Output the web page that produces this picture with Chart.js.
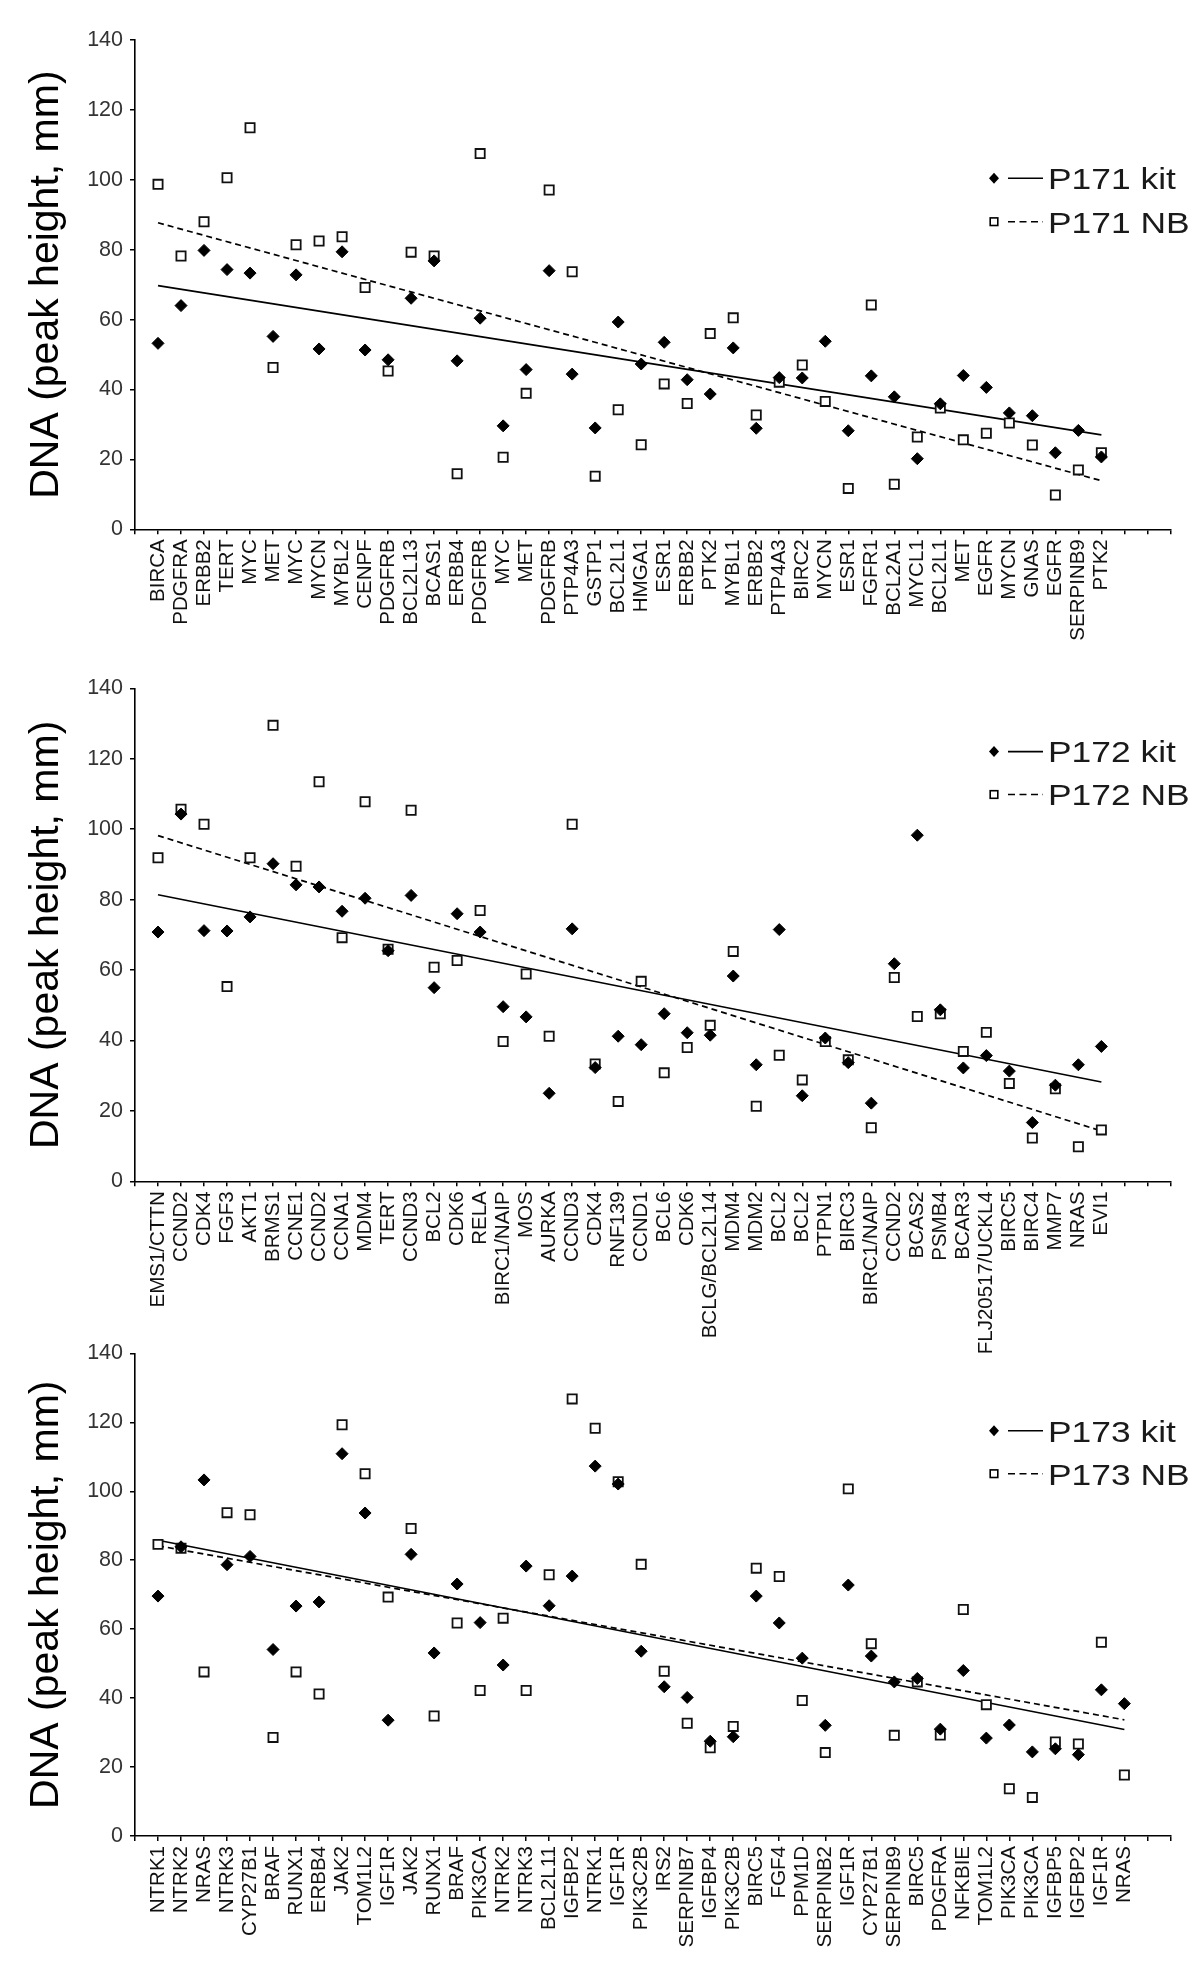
<!DOCTYPE html>
<html>
<head>
<meta charset="utf-8">
<script src="https://cdn.jsdelivr.net/npm/chart.js@4.4.1/dist/chart.umd.min.js"></script>
<style>
  body { margin: 0; background: #fff; }
  .panel { position: absolute; left: 0; width: 1200px; }
</style>
</head>
<body>
<div class="panel" style="top:0"><canvas id="chart-p171" width="1200" height="655"></canvas></div>
<div class="panel" style="top:655px"><canvas id="chart-p172" width="1200" height="730"></canvas></div>
<div class="panel" style="top:1320px"><canvas id="chart-p173" width="1200" height="655"></canvas></div>
<script>
// P171
var genes171 = ['BIRCA', 'PDGFRA', 'ERBB2', 'TERT', 'MYC', 'MET', 'MYC', 'MYCN', 'MYBL2', 'CENPF',
    'PDGFRB', 'BCL2L13', 'BCAS1', 'ERBB4', 'PDGFRB', 'MYC', 'MET', 'PDGFRB', 'PTP4A3', 'GSTP1',
    'BCL2L1', 'HMGA1', 'ESR1', 'ERBB2', 'PTK2', 'MYBL1', 'ERBB2', 'PTP4A3', 'BIRC2', 'MYCN',
    'ESR1', 'FGFR1', 'BCL2A1', 'MYCL1', 'BCL2L1', 'MET', 'EGFR', 'MYCN', 'GNAS', 'EGFR',
    'SERPINB9', 'PTK2'];
var kit171 = [53.2, 64.0, 79.8, 74.3, 73.3, 55.2, 72.8, 51.6, 79.4, 51.3,
    48.5, 66.1, 76.8, 48.2, 60.4, 29.6, 45.7, 74.0, 44.4, 29.0,
    59.3, 47.3, 53.5, 42.8, 38.7, 51.9, 28.9, 43.4, 43.3, 53.8,
    28.2, 43.9, 37.9, 20.2, 35.9, 44.0, 40.6, 33.3, 32.5, 21.9,
    28.3, 20.7];
var nb171 = [98.7, 78.2, 88.0, 100.6, 114.9, 46.3, 81.4, 82.5, 83.7, 69.2,
    45.3, 79.3, 78.2, 15.9, 107.5, 20.6, 38.9, 97.1, 73.7, 15.2,
    34.2, 24.2, 41.6, 36.0, 56.0, 60.5, 32.7, 42.1, 47.0, 36.6,
    11.7, 64.2, 12.9, 26.4, 34.7, 25.6, 27.5, 30.4, 24.1, 9.8,
    17.0, 21.9];
var trendKit171 = [69.7, 27.0];
var trendNb171 = [87.7, 13.9];

// P172
var genes172 = ['EMS1/CTTN', 'CCND2', 'CDK4', 'FGF3', 'AKT1', 'BRMS1', 'CCNE1', 'CCND2', 'CCNA1', 'MDM4',
    'TERT', 'CCND3', 'BCL2', 'CDK6', 'RELA', 'BIRC1/NAIP', 'MOS', 'AURKA', 'CCND3', 'CDK4',
    'RNF139', 'CCND1', 'BCL6', 'CDK6', 'BCLG/BCL2L14', 'MDM4', 'MDM2', 'BCL2', 'BCL2', 'PTPN1',
    'BIRC3', 'BIRC1/NAIP', 'CCND2', 'BCAS2', 'PSMB4', 'BCAR3', 'FLJ20517/UCKL4', 'BIRC5', 'BIRC4', 'MMP7',
    'NRAS', 'EVI1'];
var kit172 = [70.8, 104.3, 71.2, 71.1, 75.1, 90.2, 84.2, 83.6, 76.7, 80.4,
    65.5, 81.2, 55.0, 76.0, 70.8, 49.6, 46.7, 25.0, 71.7, 32.3,
    41.2, 38.8, 47.6, 42.2, 41.5, 58.3, 33.1, 71.5, 24.3, 40.7,
    33.7, 22.2, 61.8, 98.3, 48.7, 32.2, 35.7, 31.3, 16.7, 27.3,
    33.1, 38.3];
var nb172 = [91.9, 105.7, 101.4, 55.3, 91.9, 129.5, 89.5, 113.5, 69.2, 107.8,
    65.9, 105.4, 60.8, 62.7, 76.9, 39.7, 58.9, 41.2, 101.4, 33.3,
    22.7, 56.8, 30.8, 38.0, 44.3, 65.3, 21.3, 35.8, 28.8, 39.7,
    34.5, 15.2, 57.9, 46.8, 47.6, 36.9, 42.3, 27.8, 12.3, 26.3,
    9.8, 14.6];
var trendKit172 = [81.4, 28.2];
var trendNb172 = [98.2, 14.3];

// P173
var genes173 = ['NTRK1', 'NTRK2', 'NRAS', 'NTRK3', 'CYP27B1', 'BRAF', 'RUNX1', 'ERBB4', 'JAK2', 'TOM1L2',
    'IGF1R', 'JAK2', 'RUNX1', 'BRAF', 'PIK3CA', 'NTRK2', 'NTRK3', 'BCL2L11', 'IGFBP2', 'NTRK1',
    'IGF1R', 'PIK3C2B', 'IRS2', 'SERPINB7', 'IGFBP4', 'PIK3C2B', 'BIRC5', 'FGF4', 'PPM1D', 'SERPINB2',
    'IGF1R', 'CYP27B1', 'SERPINB9', 'BIRC5', 'PDGFRA', 'NFKBIE', 'TOM1L2', 'PIK3CA', 'PIK3CA', 'IGFBP5',
    'IGFBP2', 'IGF1R', 'NRAS'];
var kit173 = [69.6, 83.9, 103.3, 78.7, 81.1, 54.1, 66.7, 67.9, 110.9, 93.7,
    33.6, 81.7, 53.1, 73.1, 61.9, 49.6, 78.3, 66.8, 75.4, 107.3,
    102.1, 53.6, 43.3, 40.2, 27.5, 28.8, 69.6, 61.8, 51.6, 32.1,
    72.8, 52.2, 44.7, 45.7, 31.0, 48.0, 28.4, 32.2, 24.4, 25.3,
    23.6, 42.4, 38.4];
var nb173 = [84.6, 83.5, 47.6, 93.8, 93.2, 28.6, 47.6, 41.2, 119.3, 105.1,
    69.3, 89.2, 34.8, 61.8, 42.2, 63.2, 42.2, 75.8, 126.8, 118.3,
    102.8, 78.8, 47.8, 32.7, 25.6, 31.8, 77.7, 75.3, 39.3, 24.2,
    100.7, 55.8, 29.2, 44.7, 29.3, 65.7, 38.1, 13.7, 11.2, 27.3,
    26.7, 56.2, 17.7];
var trendKit173 = [85.8, 30.9];
var trendNb173 = [84.2, 33.7];

var FONT = '"Liberation Sans", Arial, Helvetica, sans-serif';
Chart.defaults.font.family = FONT;

function toPoints(values) {
    return values.map(function (v, i) { return {x: i + 1, y: v}; });
}

function trendPoints(ends, n) {
    return [{x: 1, y: ends[0]}, {x: n, y: ends[1]}];
}

// legend drawn as "marker — text" like the original figure
var legendMarks = {
    id: 'legendMarks',
    afterDraw: function (chart, args, opts) {
        var ctx = chart.ctx;
        ctx.save();
        opts.rows.forEach(function (y, i) {
            var x = 994;
            ctx.strokeStyle = '#000';
            ctx.fillStyle = '#000';
            if (i === 0) {
                ctx.beginPath();
                ctx.moveTo(x, y - 5.5);
                ctx.lineTo(x + 5, y);
                ctx.lineTo(x, y + 5.5);
                ctx.lineTo(x - 5, y);
                ctx.closePath();
                ctx.fill();
                ctx.setLineDash([]);
            } else {
                ctx.lineWidth = 1.6;
                ctx.strokeRect(x - 3.8, y - 3.8, 7.6, 7.6);
                ctx.setLineDash([7, 4.5]);
            }
            ctx.lineWidth = 1.6;
            ctx.beginPath();
            ctx.moveTo(1008, y);
            ctx.lineTo(1043, y);
            ctx.stroke();
            ctx.setLineDash([]);

            ctx.save();
            ctx.translate(1048, y + 10.8);
            ctx.scale(1.18, 1);
            ctx.font = '30px ' + FONT;
            ctx.fillStyle = '#1a1a1a';
            ctx.textBaseline = 'alphabetic';
            ctx.fillText(opts.labels[i], 0, 0);
            ctx.restore();
        });
        ctx.restore();
    }
};

function makePanel(id, genes, kit, nb, trendKit, trendNb, labels, top, axisHeight, rows) {
    var ctx = document.getElementById(id).getContext('2d');
    return new Chart(ctx, {
        type: 'scatter',
        data: {
            datasets: [{
                label: labels[0],
                data: toPoints(kit),
                pointStyle: 'rectRot',
                pointRadius: 6,
                backgroundColor: '#000',
                borderColor: '#000',
                borderWidth: 1,
                order: 1
            }, {
                label: labels[1],
                data: toPoints(nb),
                pointStyle: 'rect',
                pointRadius: 6.5,
                backgroundColor: '#fff',
                borderColor: '#111',
                borderWidth: 1.8,
                order: 2
            }, {
                data: trendPoints(trendKit, genes.length),
                showLine: true,
                fill: false,
                pointRadius: 0,
                borderColor: '#000',
                borderWidth: 1.7,
                order: 3
            }, {
                data: trendPoints(trendNb, genes.length),
                showLine: true,
                fill: false,
                pointRadius: 0,
                borderColor: '#000',
                borderWidth: 1.7,
                borderDash: [6, 4],
                order: 3
            }]
        },
        options: {
            responsive: false,
            maintainAspectRatio: false,
            animation: false,
            events: [],
            layout: {
                padding: {top: top, right: 14, left: 0, bottom: 0}
            },
            plugins: {
                legend: {display: false},
                tooltip: {enabled: false},
                legendMarks: {labels: labels, rows: rows}
            },
            scales: {
                x: {
                    type: 'linear',
                    min: 0,
                    max: 45,
                    grid: {drawOnChartArea: false, color: '#000', lineWidth: 1.5, tickLength: 5},
                    border: {color: '#000', width: 1.6},
                    ticks: {
                        stepSize: 1,
                        autoSkip: false,
                        maxTicksLimit: 100,
                        minRotation: 90,
                        maxRotation: 90,
                        padding: 5,
                        color: '#111',
                        font: {size: 20.5},
                        callback: function (v) { return genes[v - 1] || ''; }
                    },
                    afterFit: function (s) { s.height = axisHeight; }
                },
                y: {
                    min: 0,
                    max: 140,
                    grid: {drawOnChartArea: false, color: '#000', lineWidth: 1.5, tickLength: 5},
                    border: {color: '#000', width: 1.6},
                    ticks: {stepSize: 20, padding: 7, color: '#333', font: {size: 21.5}},
                    title: {
                        display: true,
                        text: 'DNA (peak height, mm)',
                        color: '#000',
                        font: {size: 41, lineHeight: 1},
                        padding: {top: 26, bottom: 0}
                    },
                    afterFit: function (s) { s.width = 135; }
                }
            }
        },
        plugins: [legendMarks]
    });
}

makePanel('chart-p171', genes171, kit171, nb171, trendKit171, trendNb171,
    ['P171 kit', 'P171 NB'], 40, 125.7, [178.3, 221.7]);
makePanel('chart-p172', genes172, kit172, nb172, trendKit172, trendNb172,
    ['P172 kit', 'P172 NB'], 33.4, 203.7, [96.6, 139.5]);
makePanel('chart-p173', genes173, kit173, nb173, trendKit173, trendNb173,
    ['P173 kit', 'P173 NB'], 33.4, 139, [110.7, 153.7]);
</script>
</body>
</html>
